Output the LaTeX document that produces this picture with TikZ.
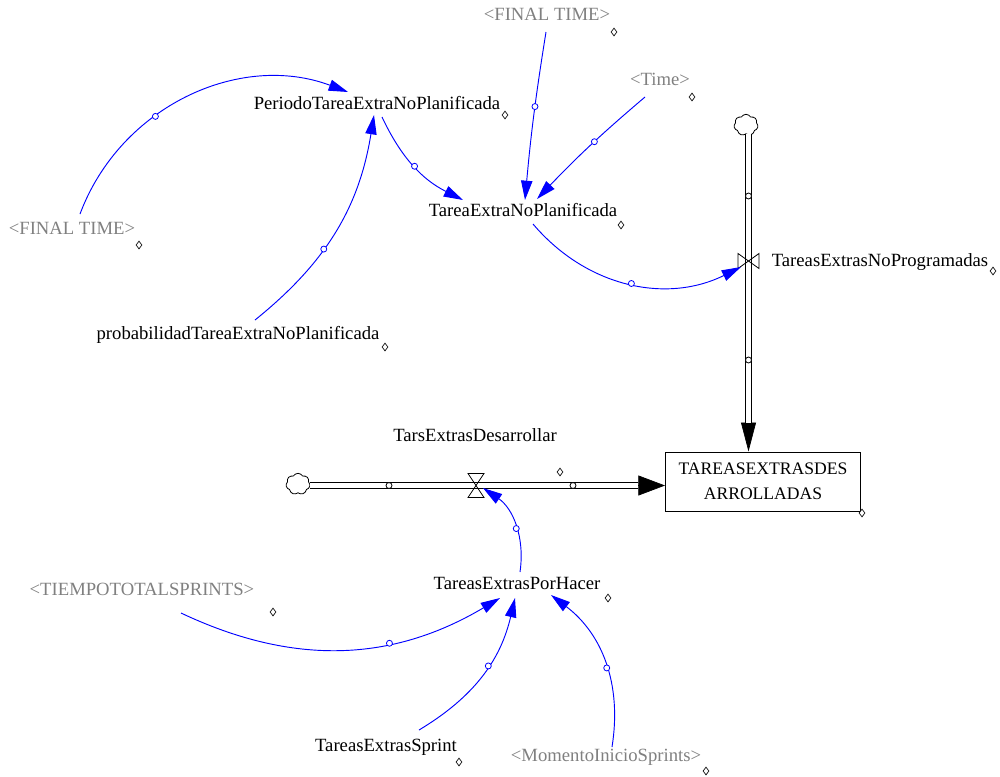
\documentclass[tikz,border=0pt]{standalone}
\usepackage{fontspec}
\setmainfont{Liberation Serif}
\usetikzlibrary{arrows.meta,shapes.geometric,shapes.symbols,calc}
\definecolor{linkblue}{RGB}{0,0,255}
\definecolor{shadowgray}{RGB}{128,128,128}
\tikzset{
  pics/valvebow/.style={code={\draw[line width=0.6pt] (-10.5,-7.5) -- (-10.5,7.5) -- (10.5,-7.5) -- (10.5,7.5) -- cycle;}},
  pics/valvehour/.style={code={\draw[line width=0.6pt] (-8,-12) -- (8,-12) -- (-8,12) -- (8,12) -- cycle;}},
}
\begin{document}
\begin{tikzpicture}[x=0.75pt,y=-0.75pt,
  var/.style={inner sep=1pt, text height=10pt, text depth=3pt, font=\fontsize{14}{16}\selectfont},
  shadow/.style={var, text=shadowgray},
  link/.style={draw=linkblue, line width=0.7pt, -{Triangle[length=14.5pt,width=8.5pt]}},
  hc/.style={circle, draw=linkblue, fill=white, line width=0.6pt, inner sep=0pt, minimum size=4.5pt},
  pc/.style={circle, draw=black, fill=white, line width=0.6pt, inner sep=0pt, minimum size=4.5pt},
  dia/.style={diamond, draw=black, fill=white, line width=0.5pt, inner sep=0pt, minimum width=4.5pt, minimum height=6pt},
  pipe/.style={draw=black, line width=0.75pt, double=white, double distance=3.2pt},
  pipetipv/.style={draw=black, line width=0.5pt, -{Triangle[length=21.75pt,width=11.25pt]}},
  pipetiph/.style={draw=black, line width=0.5pt, -{Triangle[length=20pt,width=15pt]}},
  cloudst/.style={cloud, cloud puffs=7, cloud puff arc=120, cloud ignores aspect, draw, fill=white, line width=0.6pt, inner sep=0pt, minimum width=18pt, minimum height=16pt},
  stockbox/.style={draw, line width=0.75pt, align=center, minimum width=146.25pt, minimum height=44.25pt, inner sep=1pt, font=\fontsize{13.2}{18.75}\selectfont},
]
\useasboundingbox (0,0) rectangle (1000,776);

% variables
\node[var] (per) at (377,105) {PeriodoTareaExtraNoPlanificada};
\node[shadow] (fin1) at (72,230) {<FINAL TIME>};
\node[var] (prob) at (238,335) {probabilidadTareaExtraNoPlanificada};
\node[var] (tena) at (523,212) {TareaExtraNoPlanificada};
\node[shadow] (fin2) at (547,16) {<FINAL TIME>};
\node[shadow] (time) at (660,81) {<Time>};
\node[var] (r1) at (880,262) {TareasExtrasNoProgramadas};
\node[var] (r2) at (475,437) {TarsExtrasDesarrollar};
\node[var] (tph) at (517,585) {TareasExtrasPorHacer};
\node[shadow] (tiempo) at (142,591) {<TIEMPOTOTALSPRINTS>};
\node[var] (tes) at (386,747) {TareasExtrasSprint};
\node[shadow] (mom) at (606,757) {<MomentoInicioSprints>};

% stock, clouds and valves
\node[stockbox] (stock) at (763,481.5) {TAREASEXTRASDES\\ARROLLADAS};
\node[cloudst] (cloudA) at (746,125) {};
\node[cloudst] (cloudB) at (298,484) {};
\coordinate (v1) at (748.5,261);
\coordinate (v2) at (476,485.5);

% flow pipes
\draw[pipetipv] (cloudA.south -| v1) -- (stock.north -| v1);
\draw[pipe, shorten >=21.75pt] (cloudA.south -| v1) -- (stock.north -| v1);
\draw[pipetiph] (cloudB.east |- v2) -- (stock.west |- v2);
\draw[pipe, shorten >=20pt] (cloudB.east |- v2) -- (stock.west |- v2);
\node[pc] (p1) at (748.5,196) {};
\node[pc] (p2) at (748.5,360) {};
\node[pc] (p3) at (389,485.5) {};
\node[pc] (p4) at (573,485.5) {};
\pic at (v1) {valvebow};
\pic at (v2) {valvehour};

% connectors
\draw[link] ($(fin1)+(8,-16)$) to[bend left=45] node[hc,pos=.38] (k1) {} ($(per)+(-29,-13)$);
\draw[link] ($(prob)+(17,-15)$) to[bend right=21] node[hc,pos=.4] (k2) {} ($(per)+(-3,10)$);
\draw[link] ($(per)+(5,12)$) to[bend right=19] node[hc,pos=.5] (k3) {} ($(tena)+(-60,-12)$);
\draw[link] ($(fin2)+(-1,16)$) to[bend right=2] node[hc,pos=.44] (k4) {} ($(tena)+(2,-12)$);
\draw[link] ($(time)+(-15,16)$) to[bend right=3] node[hc,pos=.45] (k5) {} ($(tena)+(14,-13)$);
\draw[link] ($(tena)+(10,12)$) to[bend right=38] node[hc,pos=.51] (k6) {} ($(v1)+(-7.5,6)$);
\draw[link] ($(tph)+(3,-13)$) to[bend right=32] node[hc,pos=.45] (k7) {} ($(v2)+(7,2.5)$);
\draw[link] ($(tiempo)+(39,22)$) to[bend right=28] node[hc,pos=.65] (k8) {} ($(tph)+(-17,13)$);
\draw[link] ($(tes)+(33,-17)$) to[bend right=23] node[hc,pos=.57] (k9) {} ($(tph)+(-2,13)$);
\draw[link] ($(mom)+(6,-10)$) to[bend right=31] node[hc,pos=.46] (k10) {} ($(tph)+(34,10)$);

% small handles beside the names
\node[dia] (d1) at (505,115) {};
\node[dia] (d2) at (139,245) {};
\node[dia] (d3) at (385,347) {};
\node[dia] (d4) at (621,225) {};
\node[dia] (d5) at (614,32) {};
\node[dia] (d6) at (692,97) {};
\node[dia] (d7) at (993,271) {};
\node[dia] (d8) at (862,513) {};
\node[dia] (d9) at (560,472) {};
\node[dia] (d10) at (608,598) {};
\node[dia] (d11) at (273,612) {};
\node[dia] (d12) at (459,762) {};
\node[dia] (d13) at (706,771) {};
\end{tikzpicture}
\end{document}
